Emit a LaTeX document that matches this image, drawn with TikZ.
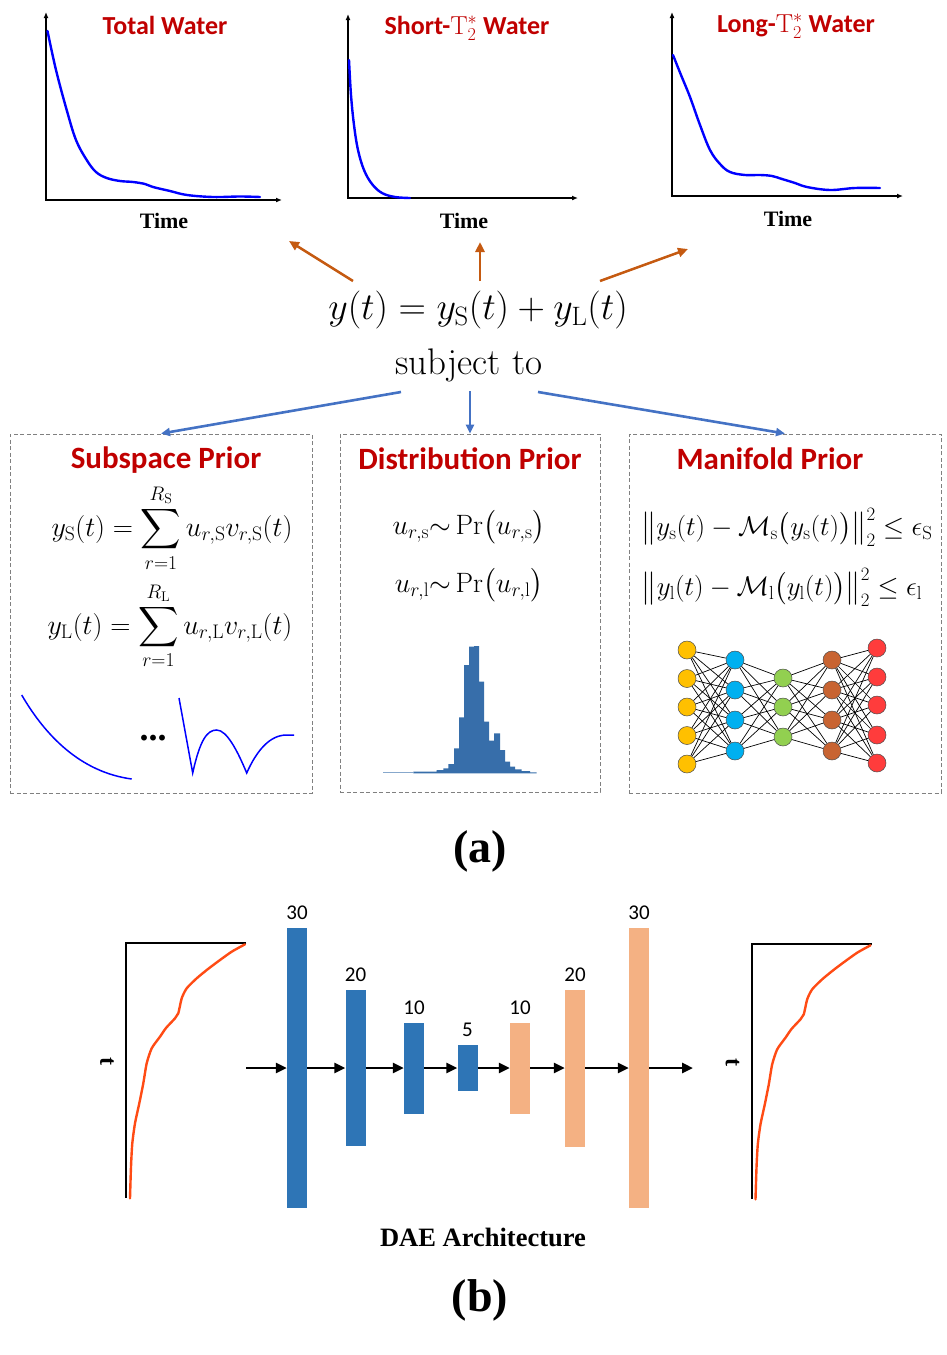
\RequirePackage{fix-cm}
\documentclass[tikz,border=0pt]{standalone}
\usepackage{amsmath,amssymb}
\usepackage{fontspec}
\newfontfamily\calibri{Carlito}
\newfontfamily\timesf{Liberation Serif}
\usetikzlibrary{arrows.meta}
\newcommand{\myfs}[1]{\fontsize{#1}{#1}\selectfont}
\definecolor{titlered}{RGB}{192,0,0}
\definecolor{arrorange}{RGB}{197,90,17}
\definecolor{arrblue}{RGB}{68,114,196}
\definecolor{histblue}{RGB}{55,110,170}
\definecolor{barblue}{RGB}{46,117,182}
\definecolor{barorange}{RGB}{244,177,131}
\definecolor{nnyellow}{RGB}{255,192,0}
\definecolor{nncyan}{RGB}{0,176,240}
\definecolor{nngreen}{RGB}{146,208,80}
\definecolor{nnbrown}{RGB}{200,100,50}
\definecolor{nnred}{RGB}{255,60,60}
\definecolor{dashgray}{RGB}{128,128,128}
\definecolor{daeorange}{RGB}{255,75,20}
\begin{document}
\begin{tikzpicture}[x=1pt,y=-1pt,
 plottitle/.style={font=\calibri\bfseries\myfs{26}, text=titlered, anchor=base},
 boxtitle/.style={font=\calibri\bfseries\myfs{31}, text=titlered},
 timelbl/.style={font=\timesf\bfseries\myfs{22}},
 axisline/.style={line width=1.5pt, {Latex[length=6pt,width=5pt]}-{Latex[length=6pt,width=5pt]}},
 sigcurve/.style={blue, line width=2.4pt, line cap=round},
 basiscurve/.style={blue, line width=1.5pt},
 orangearrow/.style={arrorange, line width=2.5pt, -{Triangle[length=10pt,width=9pt]}},
 bluearrow/.style={arrblue, line width=2.6pt, -{Triangle[length=9pt,width=8pt]}},
 priorbox/.style={draw=dashgray, line width=0.9pt, dash pattern=on 4pt off 2.5pt, inner sep=0pt},
 eqn/.style={font=\myfs{28}, inner sep=0pt},
 neuron/.style={circle, draw=black!70, line width=0.5pt, minimum size=18pt, inner sep=0pt},
 nnedge/.style={black, line width=0.7pt},
 bar/.style={inner sep=0pt, minimum width=20pt},
 bluebar/.style={bar, fill=barblue},
 orangebar/.style={bar, fill=barorange},
 barlbl/.style={font=\calibri\myfs{21}, anchor=base},
 flow/.style={black, line width=2.8pt, -{Triangle[length=11pt,width=10pt]}},
 daeframe/.style={black, line width=2pt},
 daecurve/.style={daeorange, line width=2.4pt, line cap=round, line join=round},
 biglbl/.style={font=\timesf\bfseries\myfs{46}},
]
\useasboundingbox (0,0) rectangle (947,1355);

% ---------- top plots ----------
\draw[axisline] (46,12) -- (46,200) -- (282,200);
\draw[sigcurve] plot[smooth, tension=0.6] coordinates {(47.5,31) (56,70) (66.7,110) (76,140) (86.7,160) (96,172) (106.7,178) (120,181) (133,182) (145,184) (153,187) (170,191) (187,195) (213,197) (240,196.5) (260,197)};
\node[plottitle] (t1) at (165,34.5) {Total Water};
\node[timelbl] (x1) at (164,221) {Time};

\draw[axisline] (348,14) -- (348,198) -- (578,198);
\draw[sigcurve] plot[smooth, tension=0.6] coordinates {(349,60) (351,95) (354,125) (358,150) (364,170) (372,184) (382,193) (395,197) (410,198)};
\node[plottitle] (t2) at (467,34) {Short-$\mathrm{T}_2^*$ Water};
\node[timelbl] (x2) at (464,221) {Time};

\draw[axisline] (672,12) -- (672,196) -- (903,196);
\draw[sigcurve] plot[smooth, tension=0.6] coordinates {(673,55) (681,75) (690,97) (700,125) (710,150) (720,164) (730,172) (745,175) (760,175) (772,176) (782,179) (795,183) (807,187) (830,190) (855,188) (880,188)};
\node[plottitle] (t3) at (796,32) {Long-$\mathrm{T}_2^*$ Water};
\node[timelbl] (x3) at (788,219) {Time};

% ---------- central equation ----------
\node[font=\myfs{38}] (eq) at (478,310) {$y(t)=y_\mathrm{S}(t)+y_\mathrm{L}(t)$};
\node[font=\myfs{37}] (subj) at (469,365) {subject to};

\coordinate (oa1s) at (353,281); \coordinate (oa1e) at (289,241);
\coordinate (oa2s) at (480,281); \coordinate (oa2e) at (480,242);
\coordinate (oa3s) at (600,281); \coordinate (oa3e) at (688,249);
\draw[orangearrow] (oa1s) -- (oa1e);
\draw[orangearrow] (oa2s) -- (oa2e);
\draw[orangearrow] (oa3s) -- (oa3e);

% ---------- prior boxes ----------
\node[priorbox, minimum width=302pt, minimum height=359pt] (box1) at (161,613.5) {};
\node[priorbox, minimum width=260pt, minimum height=358pt] (box2) at (470,613) {};
\node[priorbox, minimum width=312pt, minimum height=359pt] (box3) at (785,613.5) {};

\coordinate (ba1s) at (401,392);
\coordinate (ba2s) at (470,391);
\coordinate (ba3s) at (538,392);
\draw[bluearrow] (ba1s) -- (box1.north);
\draw[bluearrow] (ba2s) -- (box2.north);
\draw[bluearrow] (ba3s) -- (box3.north);

\node[boxtitle] (bt1) at (166,460) {Subspace Prior};
\node[boxtitle] (bt2) at (470,459) {Distribution Prior};
\node[boxtitle] (bt3) at (770,459) {Manifold Prior};

% subspace
\node[eqn] (se1) at (172,528) {$\displaystyle y_\mathrm{S}(t)=\sum_{r=1}^{R_\mathrm{S}} u_{r,\mathrm{S}}v_{r,\mathrm{S}}(t)$};
\node[eqn] (se2) at (170,626) {$\displaystyle y_\mathrm{L}(t)=\sum_{r=1}^{R_\mathrm{L}} u_{r,\mathrm{L}}v_{r,\mathrm{L}}(t)$};
\draw[basiscurve] (21.7,695) .. controls (45,735) and (80,772) .. (131.7,779);
\node[font=\timesf\bfseries\myfs{36}] (dots) at (153,738) {...};
\draw[basiscurve] (179,698) -- (192.7,773) .. controls (200,740) and (207,730) .. (216.7,730) .. controls (227,730) and (238,752) .. (246.7,773) .. controls (257,750) and (270,735) .. (286.7,735) -- (294,735);

% distribution
\node[eqn] (de1) at (469,527) {$u_{r,\mathrm{s}}{\sim}\,\mathrm{Pr}\big(u_{r,\mathrm{s}}\big)$};
\node[eqn] (de2) at (469,585) {$u_{r,\mathrm{l}}{\sim}\,\mathrm{Pr}\big(u_{r,\mathrm{l}}\big)$};
\fill[histblue!60] (383,773.3) rectangle (413.3,772.4);
\fill[histblue] (413.3,773.3) -- (413.3,771.7) -- (436.7,771.7) -- (436.7,770) -- (443.3,770) -- (443.3,768.3) -- (448.3,768.3) -- (448.3,764) -- (454,764) -- (454,748.3) -- (459,748.3) -- (459,717.3) -- (464,717.3) -- (464,665) -- (469,665) -- (469,646.7) -- (474,646.7) -- (474,646) -- (479,646) -- (479,681.7) -- (484,681.7) -- (484,721.7) -- (489,721.7) -- (489,740.7) -- (494,740.7) -- (494,733.3) -- (500,733.3) -- (500,750) -- (505,750) -- (505,761.7) -- (510,761.7) -- (510,766.7) -- (515,766.7) -- (515,769.3) -- (521.7,769.3) -- (521.7,771) -- (530,771) -- (530,772.3) -- (536.7,772.3) -- (536.7,773.3) -- cycle;

% manifold
\node[eqn, font=\myfs{27}] (me1) at (787,527) {$\big\|y_\mathrm{s}(t)-\mathcal{M}_\mathrm{s}\big(y_\mathrm{s}(t)\big)\big\|_2^2\le\epsilon_\mathrm{S}$};
\node[eqn, font=\myfs{27}] (me2) at (782,587) {$\big\|y_\mathrm{l}(t)-\mathcal{M}_\mathrm{l}\big(y_\mathrm{l}(t)\big)\big\|_2^2\le\epsilon_\mathrm{l}$};

\foreach \y [count=\i] in {650,678.5,707,735.5,764} \node[neuron, fill=nnyellow] (na-\i) at (687,\y) {};
\foreach \y [count=\i] in {660,690,720,751} \node[neuron, fill=nncyan] (nb-\i) at (735,\y) {};
\foreach \y [count=\i] in {678,707,737} \node[neuron, fill=nngreen] (nc-\i) at (783,\y) {};
\foreach \y [count=\i] in {660,690,720,751} \node[neuron, fill=nnbrown] (nd-\i) at (832,\y) {};
\foreach \y [count=\i] in {648,677,705,735,763} \node[neuron, fill=nnred] (ne-\i) at (877,\y) {};
\foreach \a in {1,...,5} \foreach \b in {1,...,4} \draw[nnedge] (na-\a) -- (nb-\b);
\foreach \a in {1,...,4} \foreach \b in {1,...,3} \draw[nnedge] (nb-\a) -- (nc-\b);
\foreach \a in {1,...,3} \foreach \b in {1,...,4} \draw[nnedge] (nc-\a) -- (nd-\b);
\foreach \a in {1,...,4} \foreach \b in {1,...,5} \draw[nnedge] (nd-\a) -- (ne-\b);

\node[biglbl] (la) at (480,851) {(a)};

% ---------- DAE ----------
\foreach \dx/\dy in {0/0, 625.5/1} {
\begin{scope}[shift={(\dx,\dy)}]
\draw[daeframe] (246,943) -- (126,943) -- (126,1198);
\draw[daecurve] plot[smooth, tension=0.4] coordinates {(245,944.3) (232,951.5) (220,960) (208,969) (196.7,978.3) (186.7,988.3) (181.7,998.3) (178.3,1013.3) (175,1018.3) (166,1028) (160,1036.7) (151.7,1048.3) (146.7,1063.3) (143.3,1083.3) (139.3,1103.3) (135,1123.3) (132.3,1143.3) (131,1166.7) (130,1198.3)};
\node[font=\timesf\bfseries\myfs{24}, rotate=-90] at (107,1061) {t};
\end{scope}
}

\node[bluebar, minimum height=280pt] (b1) at (297,1068) {};
\node[bluebar, minimum height=156pt] (b2) at (355.5,1068) {};
\node[bluebar, minimum height=91pt] (b3) at (414,1068) {};
\node[bluebar, minimum height=46pt] (b4) at (467.5,1068) {};
\node[orangebar, minimum height=91pt] (b5) at (520,1068) {};
\node[orangebar, minimum height=157pt] (b6) at (575,1068) {};
\node[orangebar, minimum height=280pt] (b7) at (639,1068) {};
\foreach \b/\t in {b1/30,b2/20,b3/10,b4/5,b5/10,b6/20,b7/30}
  \node[barlbl] at ([yshift=8pt]\b.north) {\t};

\coordinate (fin) at (246,1068);
\coordinate (fout) at (693,1068);
\draw[flow] (fin) -- (b1.west);
\draw[flow] (b1.east) -- (b2.west);
\draw[flow] (b2.east) -- (b3.west);
\draw[flow] (b3.east) -- (b4.west);
\draw[flow] (b4.east) -- (b5.west);
\draw[flow] (b5.east) -- (b6.west);
\draw[flow] (b6.east) -- (b7.west);
\draw[flow] (b7.east) -- (fout);

\node[font=\timesf\bfseries\myfs{26.5}] (dae) at (483,1237) {DAE Architecture};
\node[biglbl] (lb) at (480,1300) {(b)};
\end{tikzpicture}
\end{document}
